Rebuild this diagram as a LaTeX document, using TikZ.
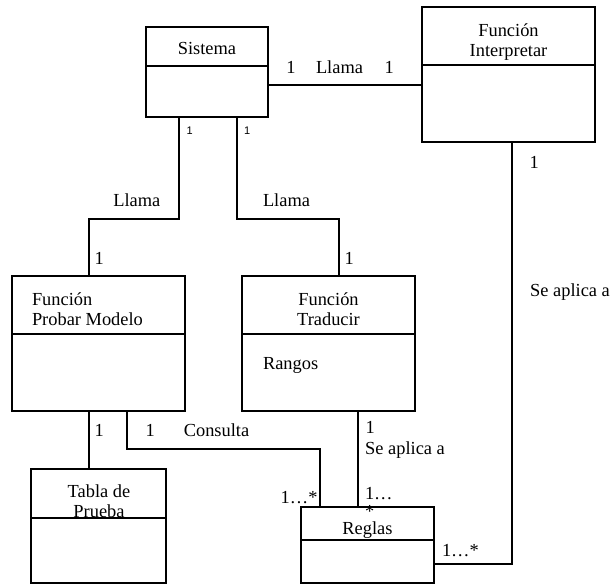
\documentclass[tikz,border=0pt]{standalone}
\usepackage{fontspec}
\setmainfont{Liberation Serif}
\newfontfamily\smallsans{Liberation Sans}
\usetikzlibrary{calc}
\begin{document}
\begin{tikzpicture}[x=1pt,y=-1pt,
  every node/.style={font=\fontsize{18.4}{20}\selectfont, inner sep=0pt, outer sep=0pt},
  umlbox/.style={draw, line width=1.6pt, anchor=north west, inner sep=0pt},
  link/.style={line width=1.6pt},
  lbl/.style={anchor=base west},
  ttl/.style={anchor=base},
  tiny1/.style={anchor=base west, font=\smallsans\fontsize{11}{12}\selectfont},
]
\fill[white] (0,0) rectangle (616,585);
\useasboundingbox (0,0) rectangle (616,585);

% class boxes
\node[umlbox, minimum width=122pt, minimum height=90pt]  (sis)    at (146,27)  {};
\node[umlbox, minimum width=173pt, minimum height=135pt] (interp) at (422,7)   {};
\node[umlbox, minimum width=173pt, minimum height=135pt] (probar) at (12,276)  {};
\node[umlbox, minimum width=173pt, minimum height=135pt] (trad)   at (242,276) {};
\node[umlbox, minimum width=135pt, minimum height=114pt] (tabla)  at (31,469)  {};
\node[umlbox, minimum width=133pt, minimum height=76pt]  (reglas) at (301,507) {};

% compartment dividers
\draw[link] ([yshift=-39pt]sis.north west)    -- ([yshift=-39pt]sis.north east);
\draw[link] ([yshift=-58pt]interp.north west) -- ([yshift=-58pt]interp.north east);
\draw[link] ([yshift=-58pt]probar.north west) -- ([yshift=-58pt]probar.north east);
\draw[link] ([yshift=-58pt]trad.north west)   -- ([yshift=-58pt]trad.north east);
\draw[link] ([yshift=-49pt]tabla.north west)  -- ([yshift=-49pt]tabla.north east);
\draw[link] ([yshift=-33pt]reglas.north west) -- ([yshift=-33pt]reglas.north east);

% class names
\node[ttl] (sisT) at (207,55) {Sistema};
\node[ttl] (interpT1) at (508.5,36.7) {Función};
\node[ttl] (interpT2) at (508.5,57) {Interpretar};
\node[lbl] (probarT1) at (32,305.7) {Función};
\node[lbl] (probarT2) at (32,325.7) {Probar Modelo};
\node[ttl] (tradT1) at (328.5,305.7) {Función};
\node[ttl] (tradT2) at (328.5,325.7) {Traducir};
\node[lbl] (rangos) at (263,369.3) {Rangos};
\node[ttl] (tablaT1) at (99,497.7) {Tabla de};
\node[ttl] (tablaT2) at (99,517.5) {Prueba};
\node[ttl] (reglasT) at (367.5,534) {Reglas};

% associations
\draw[link] ([yshift=-58pt]sis.north east) -- ([yshift=-58pt]sis.north east -| interp.west);
\draw[link] ([xshift=33pt]sis.south west) -- ++(0,102) -| ([xshift=77pt]probar.north west);
\draw[link] ([xshift=91pt]sis.south west) -- ++(0,102) -| ([xshift=97pt]trad.north west);
\draw[link] ([xshift=77pt]probar.south west) -- ([xshift=77pt]probar.south west |- tabla.north);
\draw[link] ([xshift=115pt]probar.south west) -- ++(0,38) -| ([xshift=19pt]reglas.north west);
\draw[link] ([xshift=116pt]trad.south west) -- ([xshift=116pt]trad.south west |- reglas.north);
\draw[link] ([xshift=90pt]interp.south west) -- ++(0,422) -- ([yshift=-57pt]reglas.north east);

% multiplicities and association names
\node[tiny1] (m1) at (186.5,135) {1};
\node[tiny1] (m2) at (244.2,135) {1};
\node[lbl] (m3) at (286.3,74) {1};
\node[lbl] (llama1) at (316,74) {Llama};
\node[lbl] (m4) at (384.7,74) {1};
\node[lbl] (llama2) at (113.3,206.7) {Llama};
\node[lbl] (llama3) at (263,206.7) {Llama};
\node[lbl] (m5) at (94.7,265) {1};
\node[lbl] (m6) at (344.7,265) {1};
\node[lbl] (m7) at (529.7,168.3) {1};
\node[lbl] (aplica1) at (530.2,296.7) {Se aplica a};
\node[lbl] (m8) at (94.7,436) {1};
\node[lbl] (m9) at (145.7,436) {1};
\node[lbl] (consulta) at (183.8,436) {Consulta};
\node[lbl] (m10) at (280.7,503.3) {1…*};
\node[lbl] (m11) at (365.5,433.3) {1};
\node[lbl] (aplica2) at (365.2,454.3) {Se aplica a};
\node[anchor=north west, align=left] (m12) at (365.0,487.6) {1…\\[-2pt]*};
\node[lbl] (m14) at (442,556.7) {1…*};
\end{tikzpicture}
\end{document}
